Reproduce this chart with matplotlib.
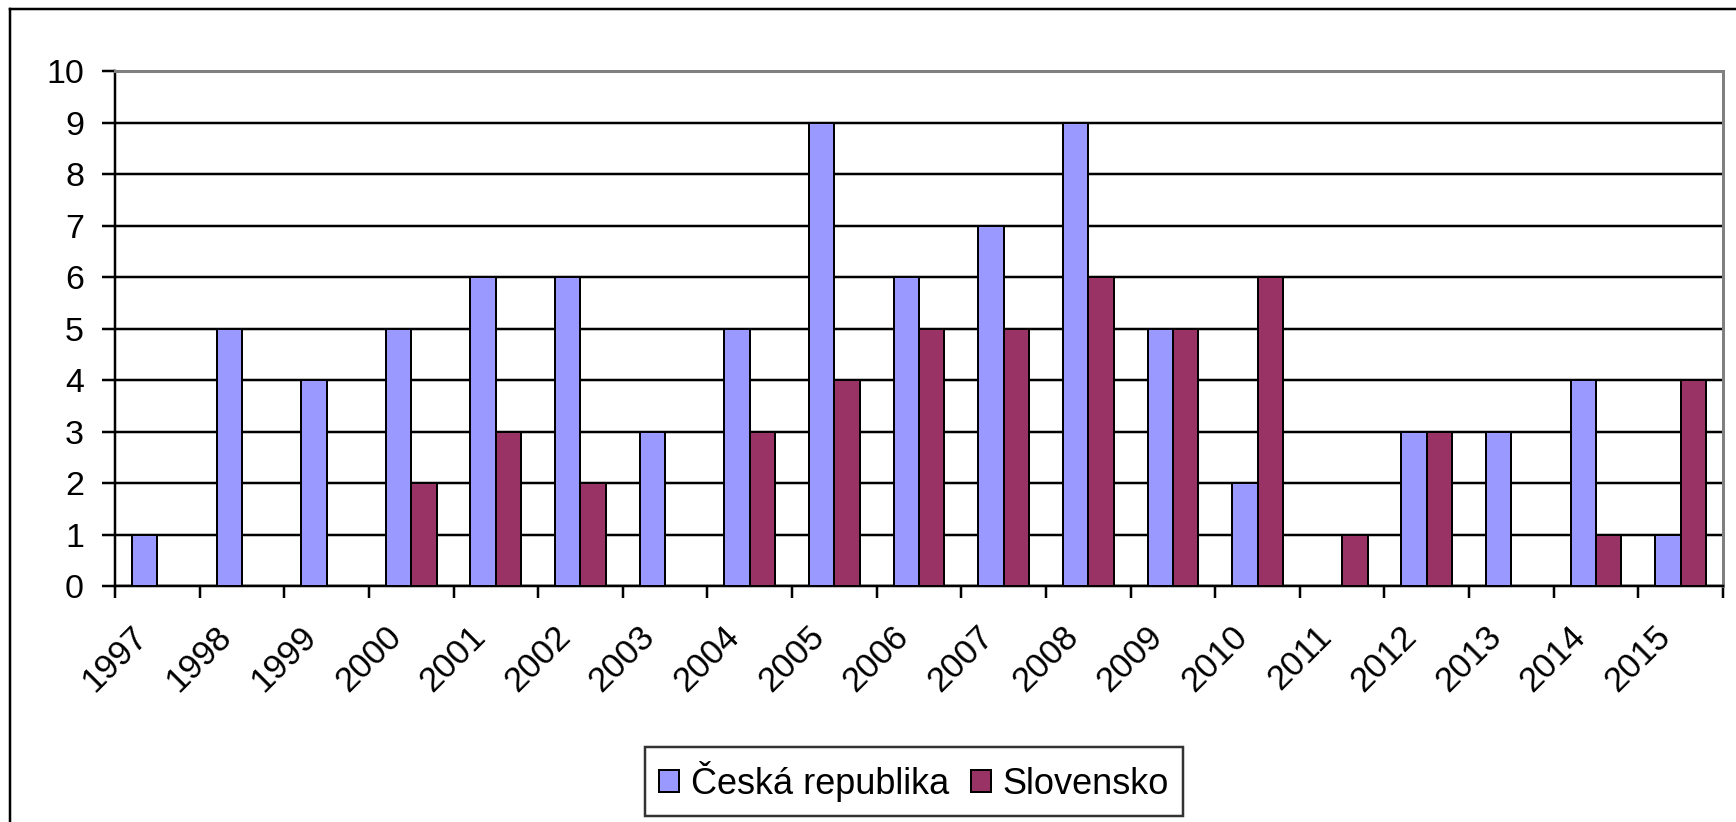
import matplotlib
matplotlib.use("Agg")
import matplotlib.pyplot as plt
import matplotlib.transforms as mtransforms
from matplotlib.lines import Line2D
import numpy as np

plt.rcParams['font.family'] = ['Liberation Sans', 'DejaVu Sans']

years = ['1997', '1998', '1999', '2000', '2001', '2002', '2003', '2004', '2005', '2006',
         '2007', '2008', '2009', '2010', '2011', '2012', '2013', '2014', '2015']
ceska = [1, 5, 4, 5, 6, 6, 3, 5, 9, 6, 7, 9, 5, 2, 0, 3, 3, 4, 1]
slovensko = [0, 0, 0, 2, 3, 2, 0, 3, 4, 5, 5, 6, 5, 6, 1, 3, 0, 1, 4]
series_names = ['Česká republika', 'Slovensko']
colors = ['#9999FF', '#993366']

W, H = 1736, 822
dpi = 100
fig = plt.figure(figsize=(W / dpi, H / dpi), dpi=dpi)
px = 72 / dpi  # points per pixel

left, right, top, bottom = 115, 1723, 71, 586
ax = fig.add_axes([left / W, 1 - bottom / H, (right - left) / W, (bottom - top) / H])

x = np.arange(len(years))
bw = 0.3
ax.bar(x - bw / 2, ceska, bw, color=colors[0], edgecolor='black', linewidth=2 * px,
       label=series_names[0], zorder=3)
ax.bar(x + bw / 2, slovensko, bw, color=colors[1], edgecolor='black', linewidth=2 * px,
       label=series_names[1], zorder=3)

ax.set_xlim(-0.5, len(years) - 0.5)
ax.set_ylim(0, 10)
ax.set_yticks(range(0, 11))
ax.yaxis.grid(True, color='black', linewidth=2.5 * px, zorder=1)
ax.set_axisbelow(True)

# spines
ax.spines['left'].set_color('black')
ax.spines['bottom'].set_color('black')
ax.spines['top'].set_color('#808080')
ax.spines['right'].set_color('#808080')
for s in ['left', 'bottom']:
    ax.spines[s].set_linewidth(2.5 * px)
for s in ['top', 'right']:
    ax.spines[s].set_linewidth(3 * px)
ax.spines['top'].set_zorder(4)

# y ticks
ax.tick_params(axis='y', direction='out', length=13 * px, width=2.5 * px,
               pad=18 * px, labelsize=24.5, colors='black')

# x: labels at category centres, tick marks at boundaries
ax.set_xticks(x)
ax.set_xticklabels(years)
ax.set_xticks(np.arange(-0.5, len(years)), minor=True)
ax.tick_params(axis='x', which='major', length=0, pad=34 * px, labelsize=25)
ax.tick_params(axis='x', which='minor', direction='out', length=12 * px, width=2.5 * px)
offset = mtransforms.ScaledTranslation(-27 / dpi, 0, fig.dpi_scale_trans)
for lab in ax.get_xticklabels():
    lab.set_rotation(45)
    lab.set_ha('right')
    lab.set_va('top')
    lab.set_rotation_mode('anchor')
    lab.set_transform(lab.get_transform() + offset)

# legend
leg = fig.legend(loc='center', bbox_to_anchor=(914 / W, 1 - 781.5 / H), ncol=2,
                 fontsize=26, frameon=True, fancybox=False, edgecolor='black',
                 handlelength=0.55, handleheight=0.55, handletextpad=0.32,
                 columnspacing=0.6, borderpad=0.4, borderaxespad=0)
leg.get_frame().set_linewidth(2.5 * px)

# outer chart border (cropped on right and bottom)
fig.add_artist(Line2D([9.5 / W, 9.5 / W], [1 - 9.5 / H, 0], transform=fig.transFigure,
                      color='black', linewidth=2.5 * px))
fig.add_artist(Line2D([9.5 / W, 1], [1 - 9.5 / H, 1 - 9.5 / H], transform=fig.transFigure,
                      color='black', linewidth=2.5 * px))

fig.savefig('out.png', dpi=dpi)
